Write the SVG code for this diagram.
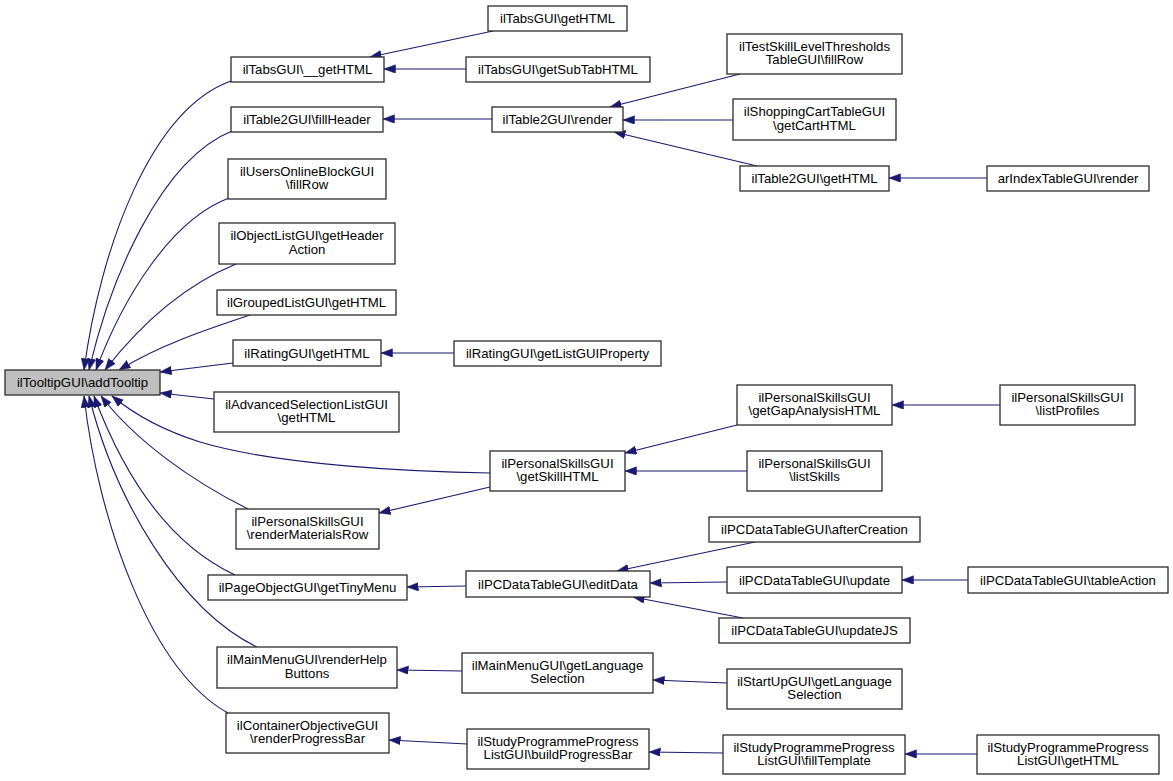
<svg xmlns="http://www.w3.org/2000/svg" width="1173" height="781" viewBox="0 0 1173 781">
<style>
.n rect{fill:#fff;stroke:#2b2b2b;stroke-width:1.3}
.n text{font-family:"Liberation Sans",Arial,sans-serif;font-size:13.2px;fill:#000;text-anchor:middle}
#edges path{fill:none;stroke:#191970;stroke-width:1.1;marker-end:url(#ah)}
</style>
<defs>
<marker id="ah" markerUnits="userSpaceOnUse" markerWidth="12" markerHeight="9" refX="11.5" refY="4.25" orient="auto">
<path d="M0,0 L11.5,4.25 L0,8.5 z" fill="#191970" stroke="#191970" stroke-width="0.5"/>
</marker>
</defs>
<rect width="1173" height="781" fill="#fff"/>
<g id="edges">
<path d="M231,81 C150,110 100,250 84,370"/>
<path d="M232,131 C160,160 110,280 89,370"/>
<path d="M229,198 C170,220 122,300 96,370"/>
<path d="M236,264 C185,285 140,325 105,370"/>
<path d="M250,315 C205,330 160,345 119,370"/>
<path d="M233,363 L160,372"/>
<path d="M214,399 L160,393"/>
<path d="M490,473 C420,472 280,466 200,442 C165,431 135,415 112,396"/>
<path d="M248,509 C190,480 135,440 101,396"/>
<path d="M235,575 C160,540 118,460 94,396"/>
<path d="M257,647 C180,610 115,500 89,396"/>
<path d="M228,713 C150,670 98,520 84,396"/>
<path d="M493,31 L370,57"/>
<path d="M466,69 L384,69"/>
<path d="M492,119 L383,119"/>
<path d="M740,74 L610,107"/>
<path d="M733,120 L623,120"/>
<path d="M757,166 L614,132"/>
<path d="M987,178 L889,178"/>
<path d="M454,353 L381,353"/>
<path d="M737,425 L625,453"/>
<path d="M747,471 L625,471"/>
<path d="M1000,405 L892,405"/>
<path d="M490,487 L379,513"/>
<path d="M755,542 L617,571"/>
<path d="M727,582 L650,583"/>
<path d="M743,618 L633,597"/>
<path d="M968,580 L902,580"/>
<path d="M466,586 L407,587"/>
<path d="M462,671 L397,670"/>
<path d="M727,683 L653,680"/>
<path d="M467,744 L389,740"/>
<path d="M723,753 L649,752"/>
<path d="M977,754 L905,754"/>
</g>
<g id="n0" class="n"><rect x="5" y="370" width="155" height="25" style="fill:#bfbfbf"/><text x="82.5" y="387">ilTooltipGUI\addTooltip</text></g>
<g id="n1" class="n"><rect x="231" y="57" width="153" height="25"/><text x="307.5" y="74">ilTabsGUI\__getHTML</text></g>
<g id="n2" class="n"><rect x="231" y="107" width="152" height="25"/><text x="307" y="124">ilTable2GUI\fillHeader</text></g>
<g id="n3" class="n"><rect x="228" y="159" width="158" height="40"/><text x="307" y="176">ilUsersOnlineBlockGUI</text><text x="307" y="189">\fillRow</text></g>
<g id="n4" class="n"><rect x="219" y="223" width="176" height="41"/><text x="307" y="240">ilObjectListGUI\getHeader</text><text x="307" y="254">Action</text></g>
<g id="n5" class="n"><rect x="217" y="290" width="179" height="25"/><text x="306.5" y="307">ilGroupedListGUI\getHTML</text></g>
<g id="n6" class="n"><rect x="233" y="340" width="148" height="26"/><text x="307" y="357.5">ilRatingGUI\getHTML</text></g>
<g id="n7" class="n"><rect x="214" y="392" width="185" height="40"/><text x="306.5" y="409">ilAdvancedSelectionListGUI</text><text x="306.5" y="422">\getHTML</text></g>
<g id="n8" class="n"><rect x="236" y="509" width="143" height="40"/><text x="307.5" y="526">ilPersonalSkillsGUI</text><text x="307.5" y="539">\renderMaterialsRow</text></g>
<g id="n9" class="n"><rect x="208" y="575" width="199" height="25"/><text x="307.5" y="592">ilPageObjectGUI\getTinyMenu</text></g>
<g id="n10" class="n"><rect x="217" y="647" width="180" height="41"/><text x="307" y="664">ilMainMenuGUI\renderHelp</text><text x="307" y="678">Buttons</text></g>
<g id="n11" class="n"><rect x="226" y="713" width="163" height="40"/><text x="307.5" y="730">ilContainerObjectiveGUI</text><text x="307.5" y="743">\renderProgressBar</text></g>
<g id="n12" class="n"><rect x="488" y="6" width="139" height="25"/><text x="557.5" y="23">ilTabsGUI\getHTML</text></g>
<g id="n13" class="n"><rect x="466" y="57" width="184" height="25"/><text x="558" y="74">ilTabsGUI\getSubTabHTML</text></g>
<g id="n14" class="n"><rect x="492" y="107" width="131" height="25"/><text x="557.5" y="124">ilTable2GUI\render</text></g>
<g id="n15" class="n"><rect x="727" y="34" width="175" height="40"/><text x="814.5" y="51">ilTestSkillLevelThresholds</text><text x="814.5" y="64">TableGUI\fillRow</text></g>
<g id="n16" class="n"><rect x="733" y="99" width="163" height="41"/><text x="814.5" y="116">ilShoppingCartTableGUI</text><text x="814.5" y="130">\getCartHTML</text></g>
<g id="n17" class="n"><rect x="740" y="166" width="149" height="25"/><text x="814.5" y="183">ilTable2GUI\getHTML</text></g>
<g id="n18" class="n"><rect x="987" y="166" width="162" height="25"/><text x="1068" y="183">arIndexTableGUI\render</text></g>
<g id="n19" class="n"><rect x="454" y="341" width="207" height="25"/><text x="557.5" y="358">ilRatingGUI\getListGUIProperty</text></g>
<g id="n20" class="n"><rect x="490" y="451" width="135" height="40"/><text x="557.5" y="468">ilPersonalSkillsGUI</text><text x="557.5" y="481">\getSkillHTML</text></g>
<g id="n21" class="n"><rect x="737" y="385" width="155" height="40"/><text x="814.5" y="402">ilPersonalSkillsGUI</text><text x="814.5" y="415">\getGapAnalysisHTML</text></g>
<g id="n22" class="n"><rect x="747" y="451" width="135" height="40"/><text x="814.5" y="468">ilPersonalSkillsGUI</text><text x="814.5" y="481">\listSkills</text></g>
<g id="n23" class="n"><rect x="1000" y="385" width="135" height="40"/><text x="1067.5" y="402">ilPersonalSkillsGUI</text><text x="1067.5" y="415">\listProfiles</text></g>
<g id="n24" class="n"><rect x="709" y="517" width="211" height="25"/><text x="814.5" y="534">ilPCDataTableGUI\afterCreation</text></g>
<g id="n25" class="n"><rect x="466" y="571" width="184" height="26"/><text x="558" y="588.5">ilPCDataTableGUI\editData</text></g>
<g id="n26" class="n"><rect x="727" y="567" width="175" height="26"/><text x="814.5" y="584.5">ilPCDataTableGUI\update</text></g>
<g id="n27" class="n"><rect x="968" y="567" width="200" height="26"/><text x="1068" y="584.5">ilPCDataTableGUI\tableAction</text></g>
<g id="n28" class="n"><rect x="719" y="618" width="191" height="25"/><text x="814.5" y="635">ilPCDataTableGUI\updateJS</text></g>
<g id="n29" class="n"><rect x="462" y="653" width="191" height="40"/><text x="557.5" y="670">ilMainMenuGUI\getLanguage</text><text x="557.5" y="683">Selection</text></g>
<g id="n30" class="n"><rect x="727" y="669" width="175" height="40"/><text x="814.5" y="686">ilStartUpGUI\getLanguage</text><text x="814.5" y="699">Selection</text></g>
<g id="n31" class="n"><rect x="467" y="729" width="182" height="40"/><text x="558" y="746">ilStudyProgrammeProgress</text><text x="558" y="759">ListGUI\buildProgressBar</text></g>
<g id="n32" class="n"><rect x="723" y="735" width="182" height="39"/><text x="814" y="752">ilStudyProgrammeProgress</text><text x="814" y="765">ListGUI\fillTemplate</text></g>
<g id="n33" class="n"><rect x="977" y="735" width="182" height="39"/><text x="1068" y="752">ilStudyProgrammeProgress</text><text x="1068" y="765">ListGUI\getHTML</text></g>
</svg>
